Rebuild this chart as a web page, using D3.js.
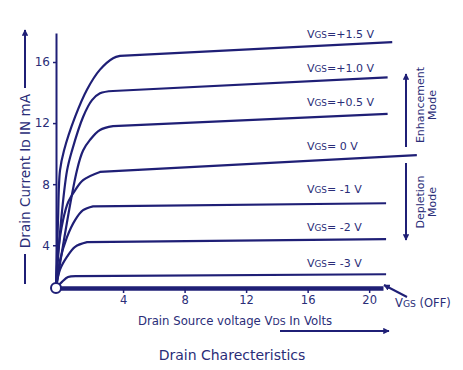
<!DOCTYPE html>
<html lang="en">
<head>
  <meta charset="UTF-8">
  <title>Drain Charecteristics</title>
  <script src="https://d3js.org/d3.v7.min.js"></script>
  <style>
    body { margin: 0; background: #fff; }
    svg text { font-family: "DejaVu Sans", Verdana, sans-serif; fill: #2a2d78; }
    .curve { fill: none; stroke: #1f1f76; stroke-width: 2.2; }
  </style>
</head>
<body>
  <script>
    // Vgs labels, top to bottom
    const vgsLabels = ["+1.5 V", "+1.0 V", "+0.5 V", " 0 V", " -1 V", " -2 V", " -3 V"];
    // [Vds (V), Id (mA)] points, one list per curve;
    // the last point is the right end of the straight saturation part
    const curvePlus15 = [[-0.36, 1.2], [-0.23, 5.6], [-0.1, 8.9], [0.16, 10.2], [0.88, 12.4], [1.66, 14.2], [2.5, 15.5], [3.35, 16.25], [3.8, 16.4], [21.5, 17.3]];
    const curvePlus10 = [[-0.36, 1.2], [-0.03, 5.6], [0.36, 8.9], [0.68, 10.2], [1.4, 12.4], [1.98, 13.5], [2.5, 13.95], [3.35, 14.1], [21.2, 15.0]];
    const curvePlus05 = [[-0.36, 1.2], [1.0, 8.9], [1.4, 10.2], [1.85, 10.9], [2.5, 11.55], [3.35, 11.8], [21.2, 12.6]];
    const curveZero   = [[-0.36, 1.2], [-0.23, 3.5], [0.1, 5.65], [0.42, 6.8], [0.88, 7.6], [1.4, 8.27], [2.5, 8.8], [23.1, 9.9]];
    const curveMinus1 = [[-0.36, 1.2], [-0.1, 3.0], [0.36, 4.55], [0.88, 5.65], [1.4, 6.3], [2.05, 6.55], [21.1, 6.75]];
    const curveMinus2 = [[-0.36, 1.2], [-0.1, 2.4], [0.36, 3.25], [0.88, 3.9], [1.66, 4.2], [21.1, 4.4]];
    const curveMinus3 = [[-0.36, 1.2], [0.03, 1.6], [0.42, 1.92], [1.0, 1.98], [21.1, 2.1]];
    const curves = [curvePlus15, curvePlus10, curvePlus05, curveZero, curveMinus1, curveMinus2, curveMinus3];
    // label anchor (Vds, Id) for each curve label
    const labelPos = [[15.96, 17.57], [15.96, 15.35], [15.96, 13.12], [15.96, 10.24], [15.96, 7.42], [15.96, 4.93], [15.96, 2.58]];

    const xTicks = [4, 8, 12, 16, 20];
    const yTicks = [4, 8, 12, 16];

    const W = 463, H = 370;
    const navy = "#1f1f76";

    const svg = d3.select("body").append("svg")
      .attr("width", W).attr("height", H);

    const defs = svg.append("defs");
    defs.append("marker")
      .attr("id", "head")
      .attr("viewBox", "0 0 10 10")
      .attr("refX", 9).attr("refY", 5)
      .attr("markerWidth", 3.2).attr("markerHeight", 3.2)
      .attr("orient", "auto")
      .append("path").attr("d", "M0,0 L10,5 L0,10 Z").attr("fill", navy);

    const x = d3.scaleLinear().domain([-0.36, 20.9]).range([56, 383]);
    const y = d3.scaleLinear().domain([1.2, 17.9]).range([288, 33]);

    // curves: smooth rise up to the knee, then a straight saturation line
    const rise = d3.line()
      .x(d => x(d[0]))
      .y(d => y(d[1]))
      .curve(d3.curveCatmullRom.alpha(0.5));

    svg.append("g")
      .selectAll("path")
      .data(curves)
      .join("path")
      .attr("class", "curve")
      .attr("d", d => {
        const end = d[d.length - 1];
        return rise(d.slice(0, -1)) + `L${x(end[0])},${y(end[1])}`;
      });

    // y axis
    const yAxis = svg.append("g")
      .attr("transform", `translate(${x(-0.36)},0)`)
      .call(d3.axisLeft(y).tickValues(yTicks).tickSize(3).tickSizeOuter(0).tickPadding(3));
    yAxis.select(".domain").attr("stroke", navy).attr("stroke-width", 2);
    yAxis.selectAll(".tick line").attr("stroke", navy).attr("stroke-width", 1.5);
    yAxis.selectAll(".tick text").style("font-size", "12px");

    // x axis (the Vgs(off) line)
    const xAxis = svg.append("g")
      .attr("transform", `translate(0,${y(1.2)})`)
      .call(d3.axisBottom(x).tickValues(xTicks).tickSize(5).tickSizeOuter(0).tickPadding(3));
    xAxis.select(".domain").attr("stroke", navy).attr("stroke-width", 4.5);
    xAxis.selectAll(".tick line").attr("stroke", navy).attr("stroke-width", 1.5);
    xAxis.selectAll(".tick text").style("font-size", "11.5px");

    // origin circle
    svg.append("circle")
      .attr("cx", x(-0.36)).attr("cy", y(1.2)).attr("r", 5)
      .attr("fill", "#fff").attr("stroke", navy).attr("stroke-width", 2);

    // text with a small-caps style subscript (V + GS, I + D, ...)
    function vText(sel, big, sub, rest, size) {
      sel.append("tspan").text(big).style("font-size", size + "px");
      sel.append("tspan").text(sub).style("font-size", (size * 0.8) + "px");
      if (rest) sel.append("tspan").text(rest).style("font-size", size + "px");
    }
    vgsLabels.forEach((lab, i) => {
      const t = svg.append("text")
        .attr("x", x(labelPos[i][0]))
        .attr("y", y(labelPos[i][1]))
        .attr("xml:space", "preserve");
      vText(t, "V", "GS", "=" + lab, 11);
    });

    // Vgs(off) label and pointer
    const off = svg.append("text").attr("x", 395).attr("y", 307);
    vText(off, "V", "GS", " (OFF)", 11.5);
    svg.append("line")
      .attr("x1", 407).attr("y1", 297).attr("x2", 384).attr("y2", 285)
      .attr("stroke", navy).attr("stroke-width", 2).attr("marker-end", "url(#head)");

    // axis titles
    const xt = svg.append("text").attr("x", 235).attr("y", 325).attr("text-anchor", "middle");
    vText(xt, "Drain Source voltage V", "DS", " In Volts", 11.7);
    svg.append("line")
      .attr("x1", 280).attr("y1", 331).attr("x2", 389).attr("y2", 331)
      .attr("stroke", navy).attr("stroke-width", 2).attr("marker-end", "url(#head)");

    const yt = svg.append("text")
      .attr("transform", "translate(30,171) rotate(-90)")
      .attr("text-anchor", "middle");
    vText(yt, "Drain Current I", "D", " IN mA", 13.6);
    svg.append("line")
      .attr("x1", 25).attr("y1", 88).attr("x2", 25).attr("y2", 30)
      .attr("stroke", navy).attr("stroke-width", 2).attr("marker-end", "url(#head)");
    svg.append("line")
      .attr("x1", 25).attr("y1", 254).attr("x2", 25).attr("y2", 284)
      .attr("stroke", navy).attr("stroke-width", 2);

    // mode arrows
    svg.append("line")
      .attr("x1", 406).attr("y1", 147).attr("x2", 406).attr("y2", 74)
      .attr("stroke", navy).attr("stroke-width", 2).attr("marker-end", "url(#head)");
    svg.append("line")
      .attr("x1", 406).attr("y1", 163).attr("x2", 406).attr("y2", 240)
      .attr("stroke", navy).attr("stroke-width", 2).attr("marker-end", "url(#head)");

    function modeLabel(cy, word) {
      const g = svg.append("text")
        .attr("transform", `translate(424,${cy}) rotate(-90)`)
        .attr("text-anchor", "middle")
        .style("font-size", "11px");
      g.append("tspan").attr("x", 0).attr("dy", 0).text(word);
      g.append("tspan").attr("x", 0).attr("dy", "1.05em").text("Mode");
    }
    modeLabel(105, "Enhancement");
    modeLabel(202, "Depletion");

    // title
    svg.append("text")
      .attr("x", 232).attr("y", 360)
      .attr("text-anchor", "middle")
      .style("font-size", "14px")
      .text("Drain Charecteristics");
  </script>
</body>
</html>
